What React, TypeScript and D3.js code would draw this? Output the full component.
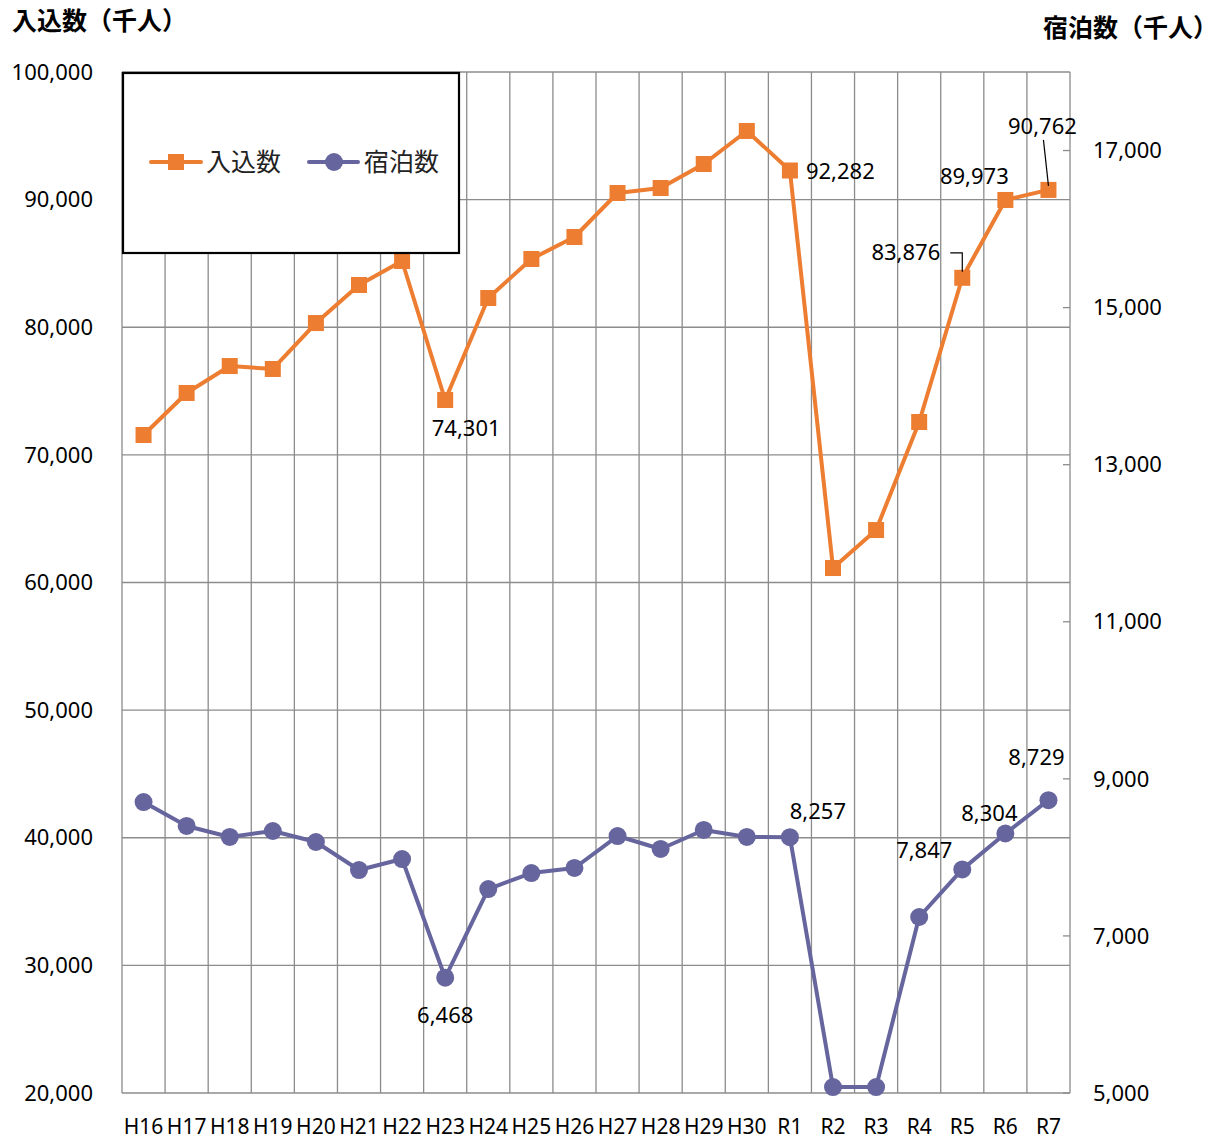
import React from "react";
import * as d3 from "d3";

const categories = ["H16","H17","H18","H19","H20","H21","H22","H23","H24","H25","H26","H27","H28","H29","H30","R1","R2","R3","R4","R5","R6","R7"];
const visitors = [71557,74850,76960,76730,80330,83310,85190,74301,82290,85350,87070,90520,90910,92790,95380,92282,61135,64110,72575,83876,89973,90762];
const overnight = [8705,8400,8260,8336,8196,7839,7979,6468,7597,7801,7865,8272,8107,8349,8260,8257,5076,5076,7241,7847,8304,8729];
const leftTicks = [20000,30000,40000,50000,60000,70000,80000,90000,100000];
const rightTicks = [5000,7000,9000,11000,13000,15000,17000];
const seriesNames = ["入込数","宿泊数"];
const leftTitle = "入込数（千人）";
const rightTitle = "宿泊数（千人）";

// label placements: [index, dx, dy, anchor]
const visitorLabels: [number, number, number, string][] = [[7, 21, 28, "middle"], [15, 16, 1, "start"], [19, -22, -25, "end"], [20, -31, -24, "middle"], [21, -6, -64, "middle"]];
const overnightLabels: [number, number, number, string][] = [[7, 0, 38, "middle"], [15, 28, -26, "middle"], [19, -38, -19, "middle"], [20, -16, -20, "middle"], [21, -12, -43, "middle"]];

const ORANGE = "#ED7D31";
const PURPLE = "#67659E";
const NUM_FONT = "'Noto Sans', 'Noto Sans CJK JP', sans-serif";
const JP_FONT = "'Noto Sans CJK JP', sans-serif";

export default function App() {
  const W = 1218, H = 1142;
  const x0 = 122, x1 = 1070, yTop = 72, yBot = 1093;
  const x = d3.scaleBand<string>().domain(categories).range([x0, x1]).padding(0);
  const cx = (i: number) => (x(categories[i]) as number) + x.bandwidth() / 2;
  const yL = d3.scaleLinear().domain([20000, 100000]).range([yBot, yTop]);
  const yR = d3.scaleLinear().domain([5000, 18000]).range([yBot, yTop]);
  const fmt = d3.format(",");
  const lineL = d3.line<number>().x((_, i) => cx(i)).y(v => yL(v));
  const lineR = d3.line<number>().x((_, i) => cx(i)).y(v => yR(v));

  return (
    <svg width={W} height={H} style={{ position: "absolute", left: 0, top: 0, background: "#fff" }}>
      <rect width={W} height={H} fill="#fff" />
      {leftTicks.map(t => (
        <line key={"h" + t} x1={x0} x2={x1} y1={yL(t)} y2={yL(t)} stroke="#8c8c8c" strokeWidth={1.3} />
      ))}
      {categories.map((c) => (
        <line key={"v" + c} x1={(x(c) as number)} x2={(x(c) as number)} y1={yTop} y2={yBot} stroke="#8c8c8c" strokeWidth={1.3} />
      ))}
      <line x1={x1} x2={x1} y1={yTop} y2={yBot} stroke="#8c8c8c" strokeWidth={1.3} />
      {rightTicks.map(t => (
        <line key={"rt" + t} x1={x1 - 7} x2={x1} y1={yR(t)} y2={yR(t)} stroke="#8c8c8c" strokeWidth={1.3} />
      ))}
      {leftTicks.map(t => (
        <text key={"lt" + t} x={93} y={yL(t)} dy="0.35em" textAnchor="end" fontFamily={NUM_FONT} fontSize={22} fill="#000">{fmt(t)}</text>
      ))}
      {rightTicks.map(t => (
        <text key={"rl" + t} x={1093} y={yR(t)} dy="0.35em" textAnchor="start" fontFamily={NUM_FONT} fontSize={22} fill="#000">{fmt(t)}</text>
      ))}
      {categories.map((c, i) => (
        <text key={"xl" + c} x={cx(i)} y={1127} dy="0.35em" textAnchor="middle" fontFamily={NUM_FONT} fontSize={21} fill="#000">{c}</text>
      ))}
      <text x={12} y={21} dy="0.35em" fontFamily={JP_FONT} fontWeight="bold" fontSize={25} fill="#000">{leftTitle}</text>
      <text x={1218} y={28} dy="0.35em" textAnchor="end" fontFamily={JP_FONT} fontWeight="bold" fontSize={25} fill="#000">{rightTitle}</text>

      <path d={lineL(visitors) as string} fill="none" stroke={ORANGE} strokeWidth={4} strokeLinejoin="round" />
      {visitors.map((v, i) => (
        <rect key={"m" + i} x={cx(i) - 8} y={yL(v) - 8} width={16} height={16} fill={ORANGE} />
      ))}
      <path d={lineR(overnight) as string} fill="none" stroke={PURPLE} strokeWidth={4} strokeLinejoin="round" />
      {overnight.map((v, i) => (
        <circle key={"c" + i} cx={cx(i)} cy={yR(v)} r={9} fill={PURPLE} />
      ))}

      <path d={`M${cx(19) - 12},${yL(visitors[19]) - 25} L${cx(19)},${yL(visitors[19]) - 25} L${cx(19)},${yL(visitors[19]) - 6}`} fill="none" stroke="#000" strokeWidth={1.2} />
      <path d={`M${cx(21) - 5},${yL(visitors[21]) - 50} L${cx(21)},${yL(visitors[21]) - 4}`} fill="none" stroke="#000" strokeWidth={1.2} />

      {visitorLabels.map(([i, dx, dy, a]) => (
        <text key={"vl" + i} x={cx(i) + dx} y={yL(visitors[i]) + dy} dy="0.35em" textAnchor={a as any} fontFamily={NUM_FONT} fontSize={22} fill="#000">{fmt(visitors[i])}</text>
      ))}
      {overnightLabels.map(([i, dx, dy, a]) => (
        <text key={"ol" + i} x={cx(i) + dx} y={yR(overnight[i]) + dy} dy="0.35em" textAnchor={a as any} fontFamily={NUM_FONT} fontSize={22} fill="#000">{fmt(overnight[i])}</text>
      ))}

      <rect x={123} y={73} width={336} height={180} fill="#fff" stroke="#000" strokeWidth={2.2} />
      <line x1={151} x2={201} y1={162} y2={162} stroke={ORANGE} strokeWidth={4} strokeLinecap="round" />
      <rect x={168} y={154} width={16} height={16} fill={ORANGE} />
      <text x={206} y={162} dy="0.35em" fontFamily={JP_FONT} fontSize={25} fill="#222">{seriesNames[0]}</text>
      <line x1={309} x2={358} y1={162} y2={162} stroke={PURPLE} strokeWidth={4} strokeLinecap="round" />
      <circle cx={334} cy={162} r={9} fill={PURPLE} />
      <text x={364} y={162} dy="0.35em" fontFamily={JP_FONT} fontSize={25} fill="#222">{seriesNames[1]}</text>
    </svg>
  );
}
